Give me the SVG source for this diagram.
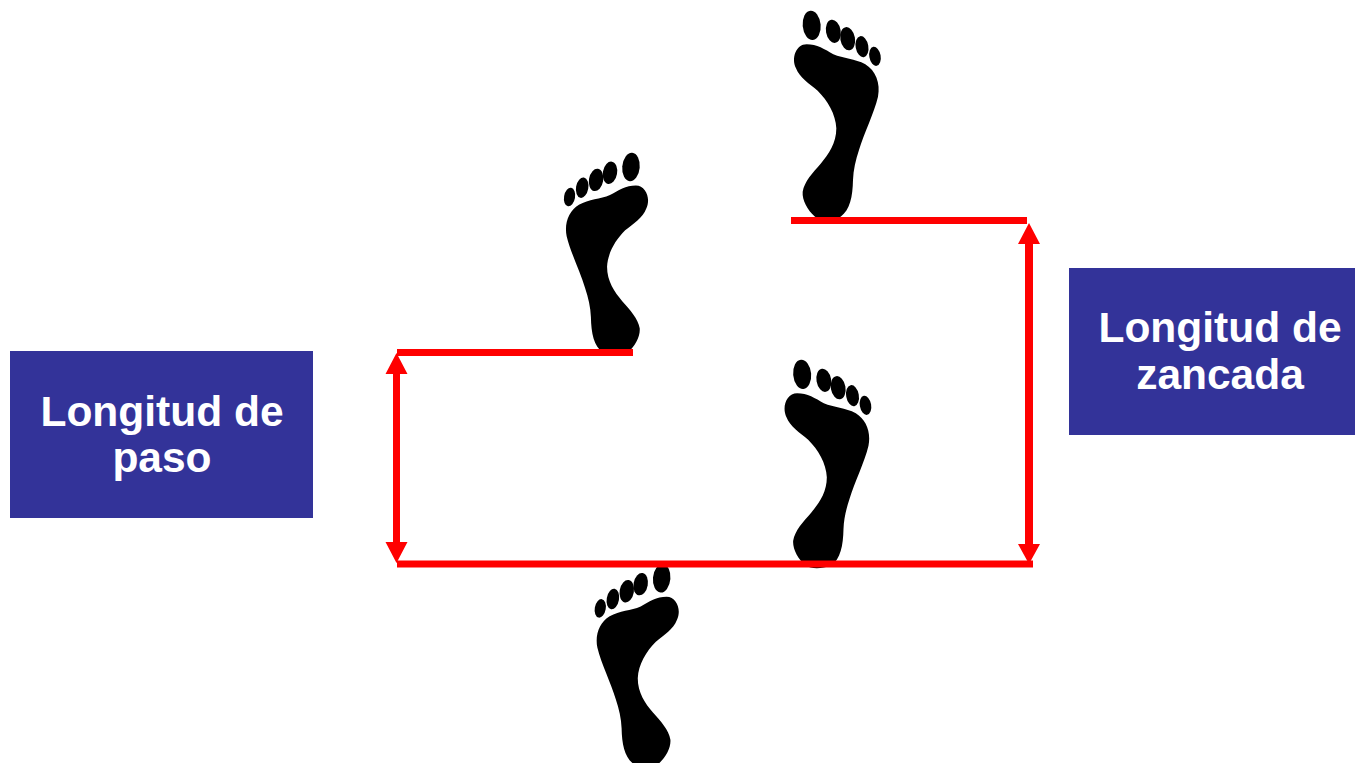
<svg xmlns="http://www.w3.org/2000/svg" width="1355" height="763" viewBox="0 0 1355 763">
<style>
.box{fill:#333399}
.lbl{font-family:"Liberation Sans",Arial,sans-serif;font-weight:700;font-size:42.500px;fill:#fff;text-anchor:middle}
.ln{stroke:#ff0000;stroke-width:7;fill:none}
.head{fill:#ff0000}
</style>
<defs>
<g id="foot" transform="translate(780 0) scale(0.3333)">
<ellipse cx="95" cy="76" rx="27" ry="44" transform="rotate(-5 95 76)"/>
<ellipse cx="160" cy="94" rx="22" ry="35" transform="rotate(-10 160 94)"/>
<ellipse cx="203" cy="116" rx="22" ry="35" transform="rotate(-10 203 116)"/>
<ellipse cx="246" cy="140" rx="19" ry="32" transform="rotate(-10 246 140)"/>
<ellipse cx="285" cy="169" rx="17" ry="29" transform="rotate(-10 285 169)"/>
<path d="M80 133C110 133 135 148 160 163C190 176 225 176 256 193C287 212 302 250 294 290C282 340 252 400 237 450C227 480 220 510 219 540C218 590 210 630 182 650C150 660 125 660 105 650C82 630 66 600 68 575C73 545 98 518 122 491C146 463 169 430 169 385C167 342 143 302 113 272C88 252 58 232 48 205C33 175 48 133 80 133Z"/>
</g>
</defs>
<g id="foot-top"><use href="#foot"/></g>
<g id="foot-left"><use href="#foot" transform="matrix(-0.97 0 0 0.97 1418.300 142.400)"/></g>
<g id="foot-mid"><use href="#foot" transform="translate(-9.5 349)"/></g>
<g id="foot-bottom"><use href="#foot" transform="matrix(-0.97 0 0 0.97 1449 553.750)"/></g>
<g id="connectors">
<path class="ln" d="M791 220.500H1027M397 352.500H633M397 564H1033"/>
<path class="ln" d="M396.500 372V544"/>
<path class="ln" style="stroke-width:8" d="M1029 242V546"/>
<path class="head" d="M396.500 353L407.500 374H385.500ZM396.500 563L385.500 542H407.500ZM1029 223L1040 244H1018ZM1029 564L1018 544H1040Z"/>
</g>
<g id="box-paso">
<rect class="box" x="10" y="351" width="303" height="167"/>
<text class="lbl" x="162" y="426">Longitud de</text>
<text class="lbl" x="162" y="472">paso</text>
</g>
<g id="box-zancada">
<rect class="box" x="1069" y="268" width="286" height="167"/>
<text class="lbl" x="1220" y="342">Longitud de</text>
<text class="lbl" x="1220" y="389">zancada</text>
</g>
</svg>
